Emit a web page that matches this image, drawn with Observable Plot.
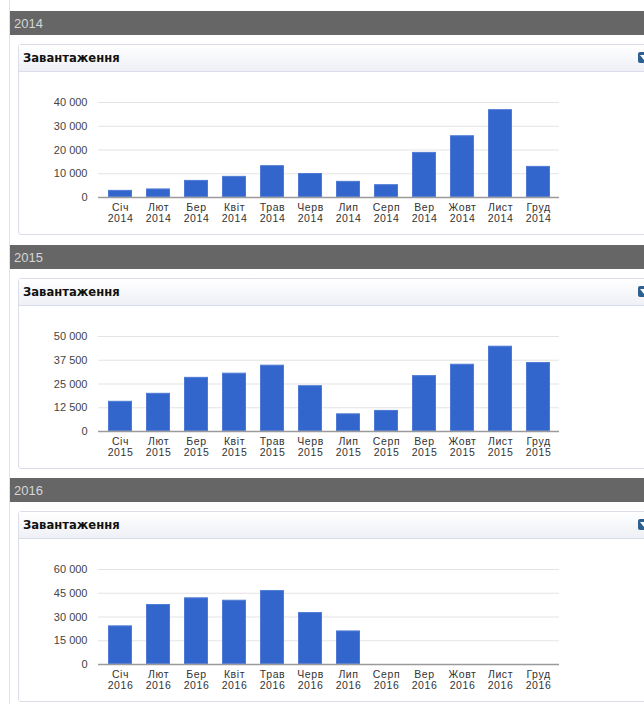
<!DOCTYPE html>
<html><head><meta charset="utf-8">
<script src="https://cdn.jsdelivr.net/npm/d3@7"></script>
<script src="https://cdn.jsdelivr.net/npm/@observablehq/plot@0.6"></script>
<style>
body{margin:0;width:644px;height:704px;overflow:hidden;background:#fff;position:relative;font-family:Arial,"Liberation Sans",sans-serif}
.vline{position:absolute;left:9px;top:0;width:1px;height:704px;background:#e2e2e2}
.hdr{position:absolute;left:10px;width:640px;height:24px;background:#666;color:#d6d6d6;font-size:13px;line-height:25px;padding-left:4px;box-sizing:border-box}
.box{position:absolute;left:18px;width:660px;height:191px;border:1px solid #dcdde8;border-radius:3px;box-sizing:border-box;background:#fff}
.ttl{height:26px;background:linear-gradient(#ffffff,#eef0f6);border-bottom:1px solid #d9dcea;font:bold 11.6px "DejaVu Sans",sans-serif;padding-left:4px;line-height:26px;color:#111}
.icon{position:absolute;left:638px;width:12px;height:11px;background:#2f5f8f;border-radius:2px}
.icon:after{content:"";position:absolute;left:2px;top:3px;border-left:4px solid transparent;border-right:4px solid transparent;border-top:5px solid #fff}
.chart{position:absolute;left:0}
.chart g[aria-label="x-axis tick label"] text{letter-spacing:0.6px}
</style>
</head><body>
<div class="vline"></div>
<script>
const months = ["Січ","Лют","Бер","Квіт","Трав","Черв","Лип","Серп","Вер","Жовт","Лист","Груд"];
const years = ["2014","2015","2016"];
const values2014 = [3000,3600,7200,8900,13400,10100,6800,5400,19000,26000,37000,13100];
const values2015 = [15900,20100,28500,30700,34900,24100,9300,11100,29400,35400,44900,36300];
const values2016 = [24400,37900,42100,40600,46700,32800,21200,0,0,0,0,0];
const ticks2014 = [0,10000,20000,30000,40000];
const ticks2015 = [0,12500,25000,37500,50000];
const ticks2016 = [0,15000,30000,45000,60000];
const panelTitle = "Завантаження";

const seriesList = [values2014, values2015, values2016];
const tickList = [ticks2014, ticks2015, ticks2016];
const offsets = [0, 234, 467];
const fmt = d3.formatLocale({decimal: ".", thousands: " ", grouping: [3], currency: ["", ""]}).format(",");

years.forEach((yr, i) => {
  const dy = offsets[i];
  const hdr = document.createElement("div");
  hdr.className = "hdr"; hdr.style.top = (11 + dy) + "px"; hdr.textContent = yr;
  document.body.appendChild(hdr);
  const box = document.createElement("div");
  box.className = "box"; box.style.top = (44 + dy) + "px";
  const ttl = document.createElement("div");
  ttl.className = "ttl"; ttl.textContent = panelTitle;
  box.appendChild(ttl);
  document.body.appendChild(box);
  const icon = document.createElement("div");
  icon.className = "icon"; icon.style.top = (52 + dy) + "px";
  document.body.appendChild(icon);

  const data = months.map((m, j) => ({month: m, value: seriesList[i][j]}));
  const ticks = tickList[i];
  const chart = Plot.plot({
    width: 570, height: 142,
    marginLeft: 98, marginRight: 11, marginTop: 12, marginBottom: 35,
    style: {fontFamily: "Arial, 'Liberation Sans', sans-serif", background: "transparent", color: "#444"},
    x: {domain: months, paddingInner: 0.375, paddingOuter: 0.1875, label: null},
    y: {domain: [ticks[0], ticks[ticks.length - 1]], label: null},
    marks: [
      Plot.gridY(ticks, {stroke: "#e4e4e4", strokeOpacity: 1, strokeWidth: 1.2}),
      Plot.axisY(ticks, {tickSize: 0, tickPadding: 11, tickFormat: fmt, fontSize: 11, fill: "#444", label: null}),
      Plot.barY(data, {x: "month", y: "value", fill: "#3366cc", stroke: "#4f7bd6", strokeWidth: 1, inset: 0.5}),
      Plot.ruleY([0], {stroke: "#9a9a9a", strokeWidth: 1.3}),
      Plot.axisX({tickSize: 0, tickPadding: 5, fontSize: 10.5, lineHeight: 1.08, fill: "#333",
        tickFormat: d => d + "\n" + yr, label: null})
    ]
  });
  chart.classList.add("chart");
  chart.style.top = (90 + dy) + "px";
  document.body.appendChild(chart);
});
</script>
</body></html>
